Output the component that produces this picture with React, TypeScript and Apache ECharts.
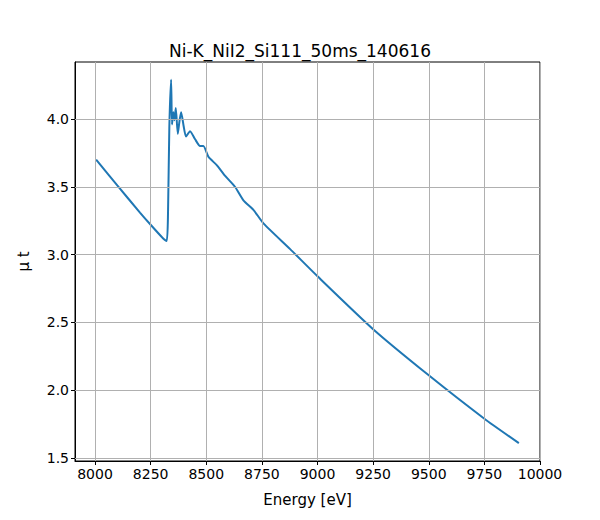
import React, { useEffect, useRef } from "react";
import * as echarts from "echarts";

const energy = [8005, 8100, 8202, 8250, 8300, 8322, 8328, 8334, 8342, 8346, 8352, 8357, 8363, 8372, 8380, 8387, 8398, 8409, 8427, 8450, 8472, 8487, 8510, 8547, 8585, 8629, 8667, 8712, 8757, 8877, 9000, 9250, 9500, 9750, 9905];
const mut = [3.70, 3.51, 3.31, 3.22, 3.13, 3.10, 3.30, 3.94, 4.29, 3.96, 4.05, 3.99, 4.08, 3.89, 3.99, 4.05, 3.95, 3.87, 3.91, 3.85, 3.80, 3.80, 3.72, 3.66, 3.58, 3.50, 3.40, 3.33, 3.23, 3.04, 2.84, 2.45, 2.11, 1.79, 1.61];
const xTicks = [8000, 8250, 8500, 8750, 9000, 9250, 9500, 9750, 10000];
const yTicks = [1.5, 2.0, 2.5, 3.0, 3.5, 4.0];

const App = () => {
  const ref = useRef<HTMLDivElement>(null);

  useEffect(() => {
    if (!ref.current) return;
    const chart = echarts.init(ref.current, null, { renderer: "svg" });
    const font = "DejaVu Sans";
    const gridLine = { color: "#b0b0b0", width: 1, type: "solid" as const };
    chart.setOption({
      animation: false,
      title: {
        text: "Ni-K_NiI2_Si111_50ms_140616",
        left: "center",
        top: 29,
        textStyle: { fontFamily: font, fontSize: 17, fontWeight: "normal", color: "#000" },
      },
      grid: { left: 67, right: 52, top: 54, bottom: 50, show: true, borderColor: "#000", borderWidth: 1 },
      xAxis: {
        type: "value",
        min: 7910,
        max: 10000,
        name: "Energy [eV]",
        nameLocation: "middle",
        nameGap: 31,
        nameTextStyle: { fontFamily: font, fontSize: 15, color: "#000" },
        axisLine: { show: true, lineStyle: { color: "#000" } },
        axisTick: { show: true, length: 4, customValues: xTicks, lineStyle: { color: "#000" } },
        axisLabel: { customValues: xTicks, formatter: (v: number) => String(v), fontFamily: font, fontSize: 14, color: "#000", margin: 6 },
        splitLine: { show: false },
      },
      yAxis: {
        type: "value",
        min: 1.478,
        max: 4.42,
        name: "μ t",
        nameLocation: "middle",
        nameGap: 44,
        nameTextStyle: { fontFamily: font, fontSize: 15, color: "#000" },
        axisLine: { show: true, lineStyle: { color: "#000" } },
        axisTick: { show: true, length: 4, customValues: yTicks, lineStyle: { color: "#000" } },
        axisLabel: {
          customValues: yTicks,
          formatter: (v: number) => v.toFixed(1),
          fontFamily: font,
          fontSize: 14,
          color: "#000",
          margin: 6,
        },
        splitLine: { show: false },
      },
      series: [
        {
          type: "line",
          data: energy.map((e, i) => [e, mut[i]]),
          showSymbol: false,
          smooth: 0.2,
          lineStyle: { color: "#1f77b4", width: 2 },
          z: 3,
          markLine: {
            silent: true,
            symbol: "none",
            label: { show: false },
            lineStyle: gridLine,
            data: [
              ...xTicks.map((x) => ({ xAxis: x })),
              ...yTicks.map((y) => ({ yAxis: y })),
            ],
          },
        },
      ],
    });
    return () => chart.dispose();
  }, []);

  return <div ref={ref} style={{ width: 584, height: 504 }} />;
};

export default App;
